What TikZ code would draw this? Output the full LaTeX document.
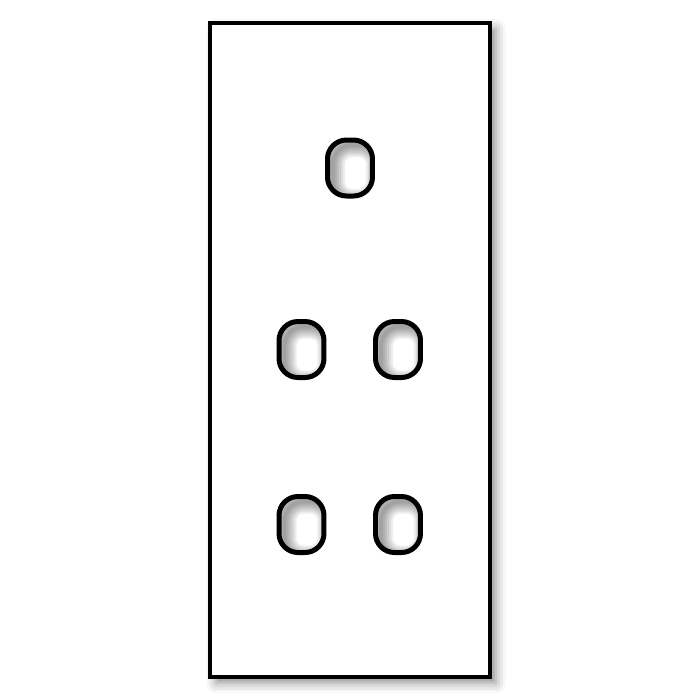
\documentclass[tikz,border=0pt]{standalone}
\usepackage{tikz}
\usetikzlibrary{shadows.blur}

\begin{document}
\begin{tikzpicture}[x=0.1mm, y=-0.1mm]
\tikzstyle{plate}=[rectangle, draw, line width=0.42mm, fill=white, minimum width=28mm, minimum height=65.4mm, inner sep=0pt,
  blur shadow={shadow xshift=0.6mm, shadow yshift=-0.6mm, shadow blur radius=1mm, shadow opacity=45}]
\tikzstyle{hole}=[rectangle, draw, line width=0.5mm, rounded corners=1.9mm, minimum width=4.5mm, minimum height=5.6mm, inner sep=0pt, fill=white,
  path picture={
    \foreach \w in {0.4,0.8,...,2.8}
      \draw[black, opacity=0.07, line width=\w mm, rounded corners=1.9mm]
        ([shift={(0.55mm,-0.5mm)}]path picture bounding box.south west) rectangle
        ([shift={(0.55mm,-0.5mm)}]path picture bounding box.north east);
  }]
\useasboundingbox (0,0) rectangle (700,700);

\node[plate] (p) at (350,350) {};

\node[hole] (top) at (350,168) {};
\node[hole] (ml) at (301.5,349.5) {};
\node[hole] (mr) at (398,349.5) {};
\node[hole] (bl) at (301.5,524.5) {};
\node[hole] (br) at (398,524.5) {};

\end{tikzpicture}
\end{document}
